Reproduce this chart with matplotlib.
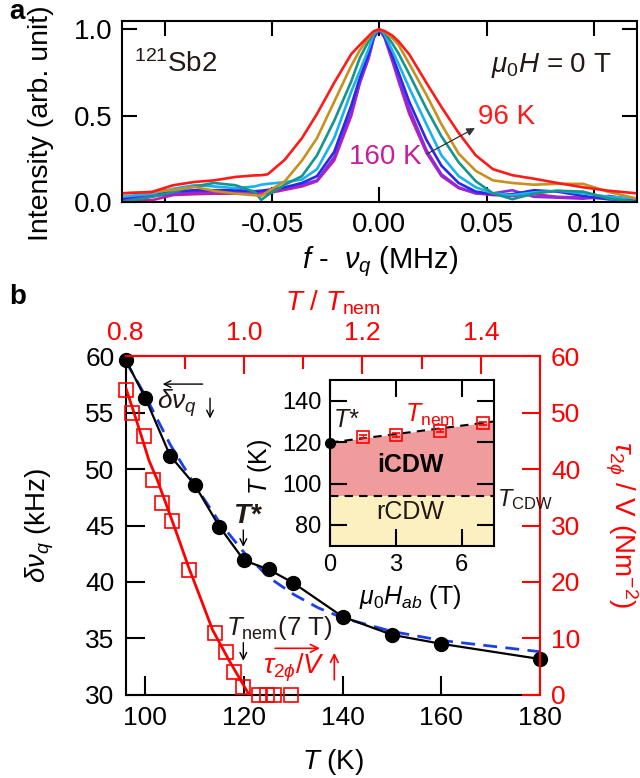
import matplotlib
matplotlib.use('Agg')
import matplotlib.pyplot as plt

plt.rcParams['font.family'] = ['Liberation Sans', 'DejaVu Sans']
plt.rcParams['mathtext.fontset'] = 'custom'
plt.rcParams['mathtext.rm'] = 'Liberation Sans'
plt.rcParams['mathtext.it'] = 'Liberation Sans:italic'
plt.rcParams['mathtext.bf'] = 'Liberation Sans:bold'
plt.rcParams['axes.unicode_minus'] = False

# ---------------- data: panel a (NMR spectra) ----------------
freq = [-0.12, -0.106, -0.096, -0.086, -0.077, -0.067, -0.058, -0.055, -0.052, -0.044,
        -0.036, -0.029, -0.021, -0.013, -0.009, -0.005, -0.0025, 0.0, 0.0025, 0.006,
        0.009, 0.014, 0.022, 0.029, 0.037, 0.045, 0.053, 0.062, 0.072, 0.083,
        0.095, 0.107, 0.12]
spec_96K = [0.05, 0.058, 0.097, 0.116, 0.125, 0.145, 0.154, 0.155, 0.16, 0.245,
            0.37, 0.51, 0.69, 0.857, 0.91, 0.96, 0.99, 1.0, 0.99, 0.965,
            0.93, 0.855, 0.69, 0.55, 0.40, 0.27, 0.19, 0.155, 0.135, 0.11,
            0.085, 0.065, 0.05]
spec_gold = [0.05, 0.058, 0.07, 0.087, 0.064, 0.048, 0.039, 0.035, 0.06, 0.12,
             0.24, 0.37, 0.58, 0.79, 0.88, 0.95, 0.985, 1.0, 0.985, 0.95,
             0.91, 0.8, 0.62, 0.45, 0.28, 0.18, 0.125, 0.11, 0.1, 0.105,
             0.105, 0.058, 0.02]
spec_teal = [0.0, 0.029, 0.058, 0.09, 0.11, 0.097, 0.058, 0.012, 0.04, 0.10,
             0.15, 0.27, 0.47, 0.70, 0.836, 0.93, 0.98, 1.0, 0.98, 0.92,
             0.86, 0.74, 0.54, 0.38, 0.23, 0.12, 0.05, 0.016, 0.048, 0.065,
             0.06, 0.02, 0.0]
spec_cyan = [0.03, 0.048, 0.077, 0.097, 0.09, 0.08, 0.09, 0.1, 0.105, 0.115,
             0.13, 0.19, 0.37, 0.64, 0.76, 0.885, 0.97, 1.0, 0.97, 0.88,
             0.8, 0.66, 0.45, 0.27, 0.15, 0.085, 0.05, 0.04, 0.055, 0.065,
             0.05, 0.03, 0.02]
spec_blue = [0.02, 0.05, 0.06, 0.068, 0.068, 0.068, 0.062, 0.065, 0.07, 0.085,
             0.11, 0.15, 0.29, 0.56, 0.72, 0.855, 0.96, 1.0, 0.96, 0.85,
             0.75, 0.58, 0.36, 0.21, 0.11, 0.06, 0.045, 0.045, 0.068, 0.06,
             0.035, 0.015, 0.01]
spec_purple = [0.01, 0.035, 0.045, 0.058, 0.058, 0.06, 0.062, 0.062, 0.06, 0.08,
               0.1, 0.125, 0.26, 0.52, 0.695, 0.835, 0.955, 1.0, 0.955, 0.84,
               0.71, 0.54, 0.3, 0.16, 0.085, 0.05, 0.05, 0.068, 0.03, 0.025,
               0.019, 0.035, 0.01]
spec_160K = [0.015, 0.01, 0.04, 0.045, 0.048, 0.048, 0.048, 0.05, 0.05, 0.07,
             0.09, 0.12, 0.24, 0.5, 0.69, 0.83, 0.95, 1.0, 0.95, 0.82,
             0.7, 0.51, 0.285, 0.15, 0.08, 0.05, 0.04, 0.035, 0.045, 0.03,
             0.025, 0.02, 0.01]
spectra = [spec_160K, spec_purple, spec_blue, spec_cyan, spec_teal, spec_gold, spec_96K]
spec_colors = ['#c81e9b', '#8a2be2', '#2a2ae6', '#1ab2ee', '#14958f', '#c8901e', '#ff1a1a']

# ---------------- data: panel b ----------------
T_dnu = [96, 100, 105, 110, 115, 120, 125, 130, 140, 150, 160, 180]
dnu = [59.7, 56.3, 51.2, 48.6, 44.9, 41.9, 41.1, 39.9, 36.9, 35.3, 34.5, 33.15]
T_fit = [96, 100, 105, 110, 115, 120, 125, 130, 135, 140, 150, 160, 170, 180]
dnu_fit = [59.6, 56.5, 52.2, 48.6, 45.3, 42.6, 40.4, 38.9, 37.7, 36.8, 35.6, 34.8, 34.3, 33.8]
T_tau = [96, 97.3, 99.7, 101.5, 103.4, 105.3, 108.8, 114.2, 116.3, 118.0, 119.8,
         123.0, 124.7, 126.0, 129.5]
tau = [54.1, 49.9, 45.8, 38.1, 34.0, 30.8, 22.1, 10.9, 7.6, 4.0, 1.4, 0, 0, 0, 0]
T_tau_line = [96, 97.5, 99, 100.7, 102.4, 104.4, 106.1, 108.8, 111, 113.6, 117, 119, 121]
tau_line = [54.5, 50.5, 46.4, 41.6, 38.1, 33.3, 29.2, 22.5, 17.5, 11.5, 6.0, 3.0, 0]
T_NEM = 120.0

# inset phase diagram
H_nem = [1.5, 3.0, 5.0, 7.0]
T_nem = [122.7, 123.5, 125.5, 129.0]
T_nem_err = [0.8, 0.8, 0.8, 0.8]
H_star = [0.0]
T_star = [119.7]
H_line = [0.0, 7.5]
T_line = [119.8, 130.0]
T_CDW = 94.0

RED = '#ff0000'
INK = '#231815'
W, H = 640, 778

def fx(px):
    return px / W

def fy(py):
    return 1 - py / H

fig = plt.figure(figsize=(6.4, 7.78), dpi=100)

# ================= panel a =================
axa = fig.add_axes([0.1902, 0.7404, 0.8047, 0.2330])
for s, c in zip(spectra, spec_colors):
    axa.plot(freq, s, color=c, lw=1.9, solid_joinstyle='round')
axa.set_xlim(-0.12, 0.12)
axa.set_ylim(0, 1.05)
axa.set_xticks([-0.10, -0.05, 0.0, 0.05, 0.10])
axa.set_xticklabels(['-0.10', '-0.05', '0.00', '0.05', '0.10'])
axa.set_yticks([0.0, 0.5, 1.0])
axa.set_yticklabels(['0.0', '0.5', '1.0'])
axa.tick_params(direction='in', length=11, width=1.5, top=True, right=True,
                labelsize=20, pad=7)
for sp in axa.spines.values():
    sp.set_linewidth(1.5)
axa.text(-0.095, 0.80, r'$^{121}$Sb2', fontsize=20, color=INK, ha='center', va='center')
axa.text(0.08, 0.79, r'$\mu_0H$ = 0 T', fontsize=20, color=INK, ha='center', va='center')
axa.text(0.0595, 0.49, '96 K', fontsize=20, color='#ff1a1a', ha='center', va='center')
axa.text(0.003, 0.26, '160 K', fontsize=20, color='#c81e9b', ha='center', va='center')
axa.annotate('', xy=(0.0446, 0.428), xytext=(0.0222, 0.278),
             arrowprops=dict(arrowstyle='-|>', color='#333333', lw=0.9,
                             mutation_scale=12, shrinkA=0, shrinkB=0))
fig.text(fx(41), fy(123), 'Intensity (arb. unit)', rotation=90, fontsize=20.5,
         ha='center', va='center')
fig.text(fx(380), fy(262), r'$f$ -  $\nu_q$ (MHz)', fontsize=21, ha='center', va='center')
fig.text(fx(17), fy(12), 'a', fontsize=20, fontweight='bold', ha='center', va='center')

# ================= panel b =================
axb = fig.add_axes([0.1964, 0.1073, 0.6473, 0.4345])
axb.set_xlim(96, 180)
axb.set_ylim(30, 60)
axb.plot(T_fit, dnu_fit, color='#1f3fe6', lw=2, dashes=(5, 3), zorder=2)
axb.plot(T_dnu, dnu, '-o', color='black', lw=1.6, ms=10, clip_on=False, zorder=3)
axb.set_xticks([100, 120, 140, 160, 180])
axb.set_yticks([30, 35, 40, 45, 50, 55, 60])
axb.tick_params(direction='in', length=14, width=1.5, labelsize=19, pad=8,
                top=False, right=False)
axb.spines['top'].set_visible(False)
axb.spines['right'].set_visible(False)
for k in ['left', 'bottom']:
    axb.spines[k].set_linewidth(1.5)

axr = axb.twinx()
axr.set_ylim(0, 60)
axr.plot(T_tau_line, tau_line, color=RED, lw=2, zorder=2)
axr.plot(T_tau, tau, 's', mfc='none', mec=RED, mew=1.2, ms=10, clip_on=False, zorder=3)
axr.set_yticks([0, 10, 20, 30, 40, 50, 60])
axr.tick_params(axis='y', direction='in', length=13, width=1.5, colors=RED,
                labelsize=19, pad=8)
axr.spines['left'].set_visible(False)
axr.spines['bottom'].set_visible(False)
axr.spines['right'].set_color(RED)
axr.spines['right'].set_linewidth(1.5)
axr.spines['top'].set_color(RED)
axr.spines['top'].set_linewidth(1.5)

axt = axb.secondary_xaxis('top', functions=(lambda t: t / T_NEM, lambda r: r * T_NEM))
axt.set_xticks([0.8, 1.0, 1.2, 1.4])
axt.set_xticks([0.9, 1.1, 1.3, 1.5], minor=True)
axt.set_xticklabels(['0.8', '1.0', '1.2', '1.4'])
axt.tick_params(which='major', direction='in', length=13, width=1.5, colors=RED,
                labelsize=19, pad=8)
axt.tick_params(which='minor', direction='in', length=9, width=1.5, colors=RED)
axt.spines['top'].set_color(RED)
axt.spines['top'].set_linewidth(1.5)

# annotations in panel b
arr_k = dict(arrowstyle='->', color='black', lw=1.0, mutation_scale=12, shrinkA=0, shrinkB=0)
arr_r = dict(arrowstyle='->', color=RED, lw=1.2, mutation_scale=14, shrinkA=0, shrinkB=0)
axb.annotate('', xy=(103.5, 57.55), xytext=(111.6, 57.55), arrowprops=arr_k)
axb.text(106.4, 55.9, r'$\delta\nu_q$', fontsize=19, color=INK, ha='center', va='center')
axb.annotate('', xy=(113.1, 54.5), xytext=(113.1, 56.3), arrowprops=arr_k)
axb.text(120.5, 45.8, 'T*', fontsize=20, fontweight='bold', fontstyle='italic',
         color=INK, ha='center', va='center')
axb.annotate('', xy=(119.85, 43.1), xytext=(119.85, 44.6), arrowprops=arr_k)
axb.text(116.4, 35.9, r'$T_{\rm nem}$(7 T)', fontsize=18.5, color=INK, ha='left', va='center')
axb.annotate('', xy=(119.85, 33.0), xytext=(119.85, 34.6), arrowprops=arr_k)
axb.annotate('', xy=(135.4, 34.1), xytext=(126.3, 34.1), arrowprops=arr_r)
axb.text(123.8, 32.35, r'$\tau_{2\phi}/V$', fontsize=19.5, color=RED, ha='left', va='center')
axb.annotate('', xy=(138.3, 33.7), xytext=(138.3, 31.3), arrowprops=arr_r)

fig.text(fx(40), fy(525), r'$\delta\nu_q$ (kHz)', rotation=90, fontsize=20,
         ha='center', va='center')
fig.text(fx(333), fy(762), r'$T$ (K)', fontsize=20, ha='center', va='center')
fig.text(fx(333), fy(303), r'$T$ / $T_{\rm nem}$', fontsize=20, color=RED,
         ha='center', va='center')
fig.text(fx(621), fy(525), r'$\tau_{2\phi}$ / V (Nm$^{-2}$)', rotation=-90, fontsize=20,
         color=RED, ha='center', va='center')
fig.text(fx(18), fy(297), 'b', fontsize=20, fontweight='bold', ha='center', va='center')

# ================= inset =================
axi = fig.add_axes([0.5156, 0.2986, 0.2570, 0.2130])
axi.set_xlim(0, 7.5)
axi.set_ylim(70, 150)
axi.fill_between(H_line, [T_CDW, T_CDW], T_line, color='#f19c9c', lw=0, zorder=0)
axi.axhspan(70, T_CDW, color='#fcefc0', lw=0, zorder=0)
axi.axhline(T_CDW, color='black', lw=1.5, dashes=(4, 3), zorder=1)
axi.plot(H_line, T_line, color='black', lw=1.5, dashes=(4, 3), zorder=1)
axi.errorbar(H_nem, T_nem, yerr=T_nem_err, fmt='s', mfc='none', mec=RED, ecolor=RED,
             ms=8, mew=1.2, capsize=3, elinewidth=1, zorder=3, clip_on=False)
axi.plot(H_star, T_star, 'o', color='black', ms=7, clip_on=False, zorder=4)
axi.set_xticks([0, 3, 6])
axi.set_yticks([80, 100, 120, 140])
axi.tick_params(direction='in', length=12, width=1.5, top=True, right=True,
                labelsize=17, pad=6)
for sp in axi.spines.values():
    sp.set_linewidth(1.5)
axi.text(0.76, 130.7, 'T*', fontsize=18, fontstyle='italic', color=INK, ha='center', va='center')
axi.text(4.56, 133.1, r'$T_{\rm nem}$', fontsize=18, color=RED, ha='center', va='center')
axi.text(3.65, 108.9, 'iCDW', fontsize=18, fontweight='bold', color='black',
         ha='center', va='center')
axi.text(3.65, 86.4, 'rCDW', fontsize=18, color=INK, ha='center', va='center')
axi.text(7.6, 92.5, r'$T_{\rm CDW}$', fontsize=17, color=INK, ha='left', va='center',
         clip_on=False)
fig.text(fx(260), fy(467), r'$T$ (K)', rotation=90, fontsize=18, ha='center', va='center')
fig.text(fx(410), fy(597), r'$\mu_0H_{ab}$ (T)', fontsize=18, ha='center', va='center')

fig.savefig('out.png', dpi=100)
